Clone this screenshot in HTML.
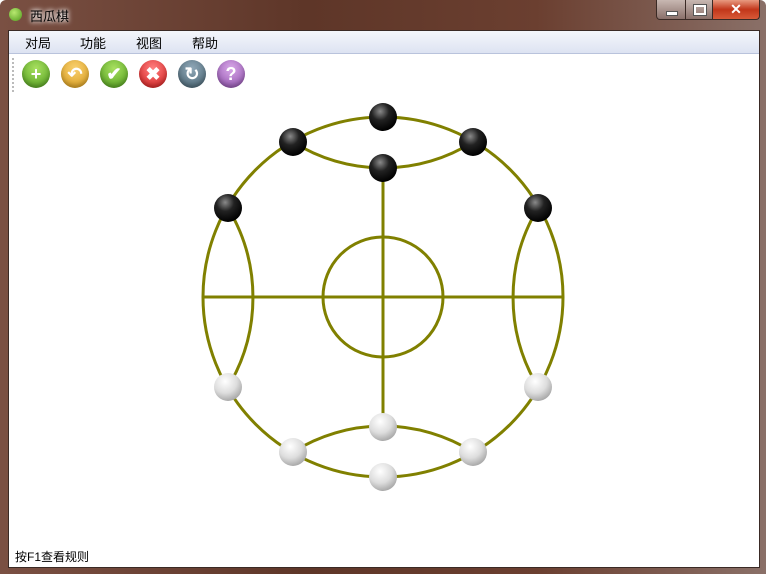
<!DOCTYPE html>
<html><head><meta charset="utf-8"><style>
body{margin:0;width:766px;height:574px;overflow:hidden;font-family:"Liberation Sans","Noto Sans CJK SC",sans-serif;}
#win{position:absolute;left:0;top:0;width:766px;height:574px;background:linear-gradient(90deg,#7a5043 0%,#5e3628 40%,#6b3f30 70%,#8a7068 100%);border-radius:6px 6px 0 0;}
#title{position:absolute;left:30px;top:6px;font-size:13px;color:#000;text-shadow:0 0 6px #fff,0 0 4px #fff;}
#appicon{position:absolute;left:9px;top:8px;width:13px;height:13px;border-radius:50%;background:radial-gradient(circle at 40% 35%,#b8e870,#4f9a1c);}
.cap{position:absolute;top:0;height:19px;border:1px solid #3a2a25;border-top:none;background:linear-gradient(#c8b8b2,#8a706a);}
#client{position:absolute;left:8px;top:30px;width:750px;height:536px;background:#fff;border:1px solid #3a2a25;}
#menu{position:absolute;left:0;top:0;width:750px;height:22px;background:linear-gradient(#f4f6fb,#dde3f2);border-bottom:1px solid #b9c3dc;font-size:13px;}
#menu span{position:absolute;top:2px;}
#tb{position:absolute;left:0;top:23px;width:750px;height:40px;}
.btn{position:absolute;top:6px;width:28px;height:28px;border-radius:50%;color:#fff;font-weight:bold;font-size:18px;text-align:center;line-height:28px;box-shadow:inset 0 -3px 5px rgba(0,0,0,.25);}
#status{position:absolute;left:6px;top:517px;font-size:12px;}
</style></head><body>
<div id="win">
<div id="appicon"></div>
<div id="title">西瓜棋</div>
<div class="cap" style="left:656px;width:28px;border-radius:0 0 0 4px"><div style="position:absolute;left:9px;top:11px;width:10px;height:3px;background:#fff;border:1px solid #555"></div></div>
<div class="cap" style="left:685px;width:26px"><div style="position:absolute;left:8px;top:5px;width:8px;height:6px;border:2px solid #fff;outline:1px solid #555"></div></div>
<div class="cap" style="left:712px;width:46px;background:linear-gradient(#e89a80,#c2361a 50%,#d85a38);border-radius:0 0 4px 0;color:#fff;text-align:center;font-weight:bold;font-size:14px;line-height:18px">✕</div>
<div id="client">
<div id="menu">
<span style="left:16px">对局</span>
<span style="left:71px">功能</span>
<span style="left:127px">视图</span>
<span style="left:183px">帮助</span>
</div>
<div id="tb">
<div style="position:absolute;left:3px;top:4px;height:34px;border-left:2px dotted #bbb"></div>
<div class="btn" style="left:13px;background:radial-gradient(circle at 50% 30%,#a8e060,#4c9a1a)">+</div>
<div class="btn" style="left:52px;background:radial-gradient(circle at 50% 30%,#f8d070,#d89a18)">↶</div>
<div class="btn" style="left:91px;background:radial-gradient(circle at 50% 30%,#a8e060,#4c9a1a)">✔</div>
<div class="btn" style="left:130px;background:radial-gradient(circle at 50% 30%,#ff8080,#d01818)">✖</div>
<div class="btn" style="left:169px;background:radial-gradient(circle at 50% 30%,#90a8b8,#44606e)">↻</div>
<div class="btn" style="left:208px;background:radial-gradient(circle at 50% 30%,#d8a8e8,#8a4aa8)">?</div>
</div>
<div id="status">按F1查看规则</div>
</div>
<svg id="board" width="766" height="574" style="position:absolute;left:0;top:0">
<defs>
<radialGradient id="gb" cx="40%" cy="30%" r="70%"><stop offset="0" stop-color="#8a8a8a"/><stop offset="0.45" stop-color="#222"/><stop offset="1" stop-color="#000"/></radialGradient>
<radialGradient id="gw" cx="40%" cy="30%" r="70%"><stop offset="0" stop-color="#fff"/><stop offset="0.6" stop-color="#ddd"/><stop offset="1" stop-color="#aaa"/></radialGradient>
</defs>
<g fill="none" stroke="#808000" stroke-width="3">
<circle cx="383" cy="297" r="180"/>
<circle cx="383" cy="297" r="60"/>
<line x1="203" y1="297" x2="563" y2="297"/>
<line x1="383" y1="168" x2="383" y2="427"/>
<path d="M293,142 A169,169 0 0 0 473,142"/>
<path d="M293,452 A169,169 0 0 1 473,452"/>
<path d="M228,208 A173,173 0 0 1 228,387"/>
<path d="M538,208 A173,173 0 0 0 538,387"/>
</g>
<g id="pieces"></g>
</svg>
</div>
<script>
const blackX=[383,293,473,383,228,538];
const blackY=[117,142,142,168,208,208];
const whiteX=[228,538,383,293,473,383];
const whiteY=[387,387,427,452,452,477];
const g=document.getElementById('pieces');
function add(x,y,fill,name){
 const c=document.createElementNS('http://www.w3.org/2000/svg','circle');
 c.setAttribute('cx',x);c.setAttribute('cy',y);c.setAttribute('r',14);
 c.setAttribute('fill',fill);
 
 
 g.appendChild(c);
}
blackX.forEach((x,i)=>add(x,blackY[i],'url(#gb)','black-piece'));
whiteX.forEach((x,i)=>add(x,whiteY[i],'url(#gw)','white-piece'));
</script>
</body></html>
